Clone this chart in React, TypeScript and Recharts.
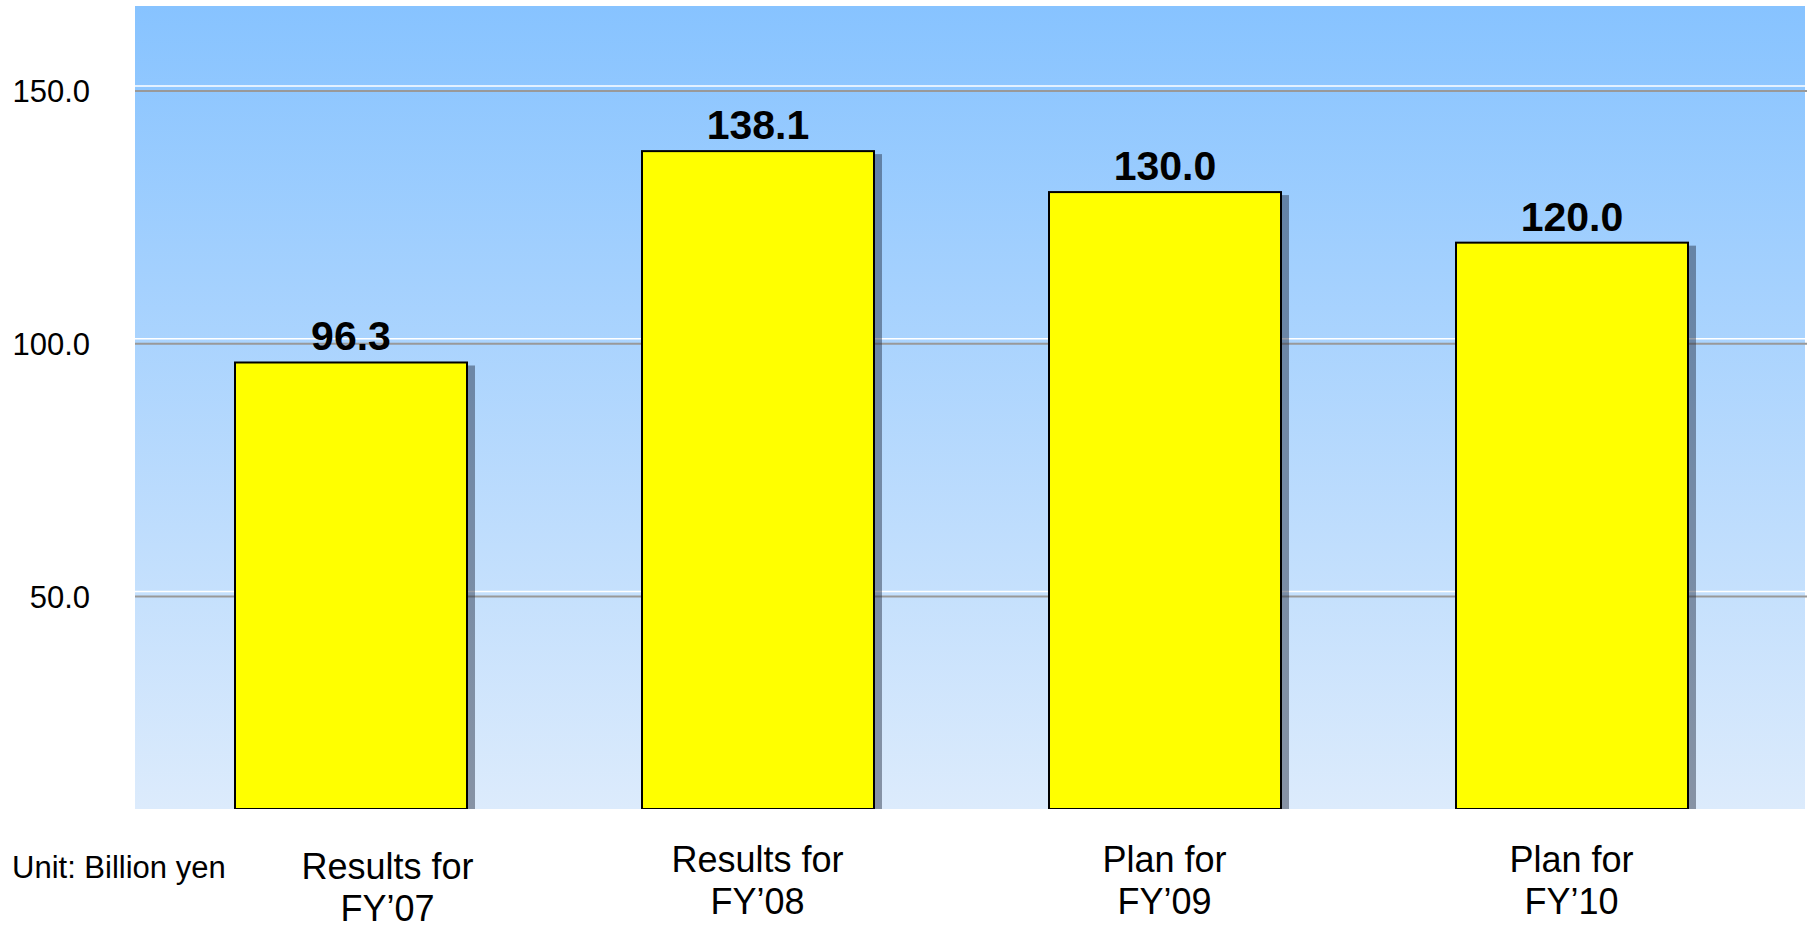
import React from "react";
import { BarChart, Bar, XAxis, YAxis, CartesianGrid, LabelList } from "recharts";

// Capital expenditure by fiscal year (billion yen)
const categories = ["Results for\nFY’07", "Results for\nFY’08", "Plan for\nFY’09", "Plan for\nFY’10"];
const amounts = [96.3, 138.1, 130.0, 120.0];
const yTicks = [50, 100, 150];
const unitCaption = "Unit: Billion yen";

const data = categories.map((name, i) => ({ name, value: amounts[i] }));

const FONT = '"Liberation Sans", Arial, Helvetica, sans-serif';
const PLOT_BOTTOM = 809;

// Yellow bar with a dark drop shadow on its right side
const ShadowBar = (props: any) => {
  const { x, y, width, height } = props;
  if (width == null || height == null || height <= 0) return null;
  return (
    <g>
      <rect x={x + width} y={y + 3} width={8} height={height - 3} fill="rgba(30,40,60,0.45)" />
      <rect x={x} y={y} width={width} height={height} fill="#FFFF00" stroke="#000" strokeWidth={2} />
    </g>
  );
};

// Horizontal rule: grey line with a thin white highlight above
const GridRule = (props: any) => {
  const { x1, x2, y1 } = props;
  if (y1 >= PLOT_BOTTOM - 2 || y1 <= 8) return <g key={props.key ?? `rule-${y1}`} />;
  return (
    <g key={props.key ?? `rule-${y1}`}>
      <line x1={x1} x2={x2} y1={y1 - 5} y2={y1 - 5} stroke="#FFFFFF" strokeWidth={1.5} />
      <line x1={x1} x2={x2 + 2} y1={y1} y2={y1} stroke="#999999" strokeWidth={2} />
    </g>
  );
};

// Two-line category label under each bar
const CategoryTick = (props: any) => {
  const { x, y, payload, index } = props;
  const lines = String(payload.value).split("\n");
  // the first label sits a little lower and to the right, clear of the unit caption
  const dx = index === 0 ? 37 : 0;
  const dy = index === 0 ? 7 : 0;
  return (
    <g transform={`translate(${x + dx},${y + dy})`}>
      {lines.map((line, i) => (
        <text
          key={i}
          x={0}
          y={63 + i * 42}
          textAnchor="middle"
          fontFamily={FONT}
          fontSize={36}
          fill="#000"
        >
          {line}
        </text>
      ))}
    </g>
  );
};

export default function App() {
  return (
    <div style={{ position: "absolute", left: 0, top: 0, width: 1810, height: 928, background: "#fff" }}>
      <BarChart
        width={1810}
        height={928}
        data={data}
        margin={{ top: 6, right: 5, bottom: 19, left: 0 }}
        barSize={232}
      >
        <defs>
          <linearGradient id="plotBg" x1="0" y1="0" x2="0" y2="1">
            <stop offset="0%" stopColor="#87C3FF" />
            <stop offset="100%" stopColor="#DCEBFC" />
          </linearGradient>
        </defs>
        <CartesianGrid
          fill="url(#plotBg)"
          fillOpacity={1}
          vertical={false}
          horizontal={(p: any) => <GridRule {...p} />}
        />
        <XAxis
          dataKey="name"
          height={100}
          axisLine={false}
          tickLine={false}
          tickSize={0}
          tickMargin={0}
          interval={0}
          padding={{ left: 12, right: 30 }}
          tick={<CategoryTick />}
        />
        <YAxis
          width={135}
          domain={[8, 166.8]}
          ticks={yTicks}
          allowDataOverflow
          axisLine={false}
          tickLine={false}
          tickSize={0}
          tickMargin={45}
          tickFormatter={(v: number) => v.toFixed(1)}
          tick={{ fontFamily: FONT, fontSize: 31, fill: "#000" }}
        />
        <Bar dataKey="value" shape={<ShadowBar />} isAnimationActive={false}>
          <LabelList
            dataKey="value"
            position="top"
            offset={12}
            formatter={(v: any) => Number(v).toFixed(1)}
            style={{ fontFamily: FONT, fontSize: 41, fontWeight: "bold", fill: "#000" }}
          />
        </Bar>
      </BarChart>
      <div
        style={{
          position: "absolute",
          left: 12,
          top: 852,
          fontFamily: FONT,
          fontSize: 31,
          lineHeight: 1,
          color: "#000",
          whiteSpace: "nowrap",
        }}
      >
        {unitCaption}
      </div>
    </div>
  );
}
